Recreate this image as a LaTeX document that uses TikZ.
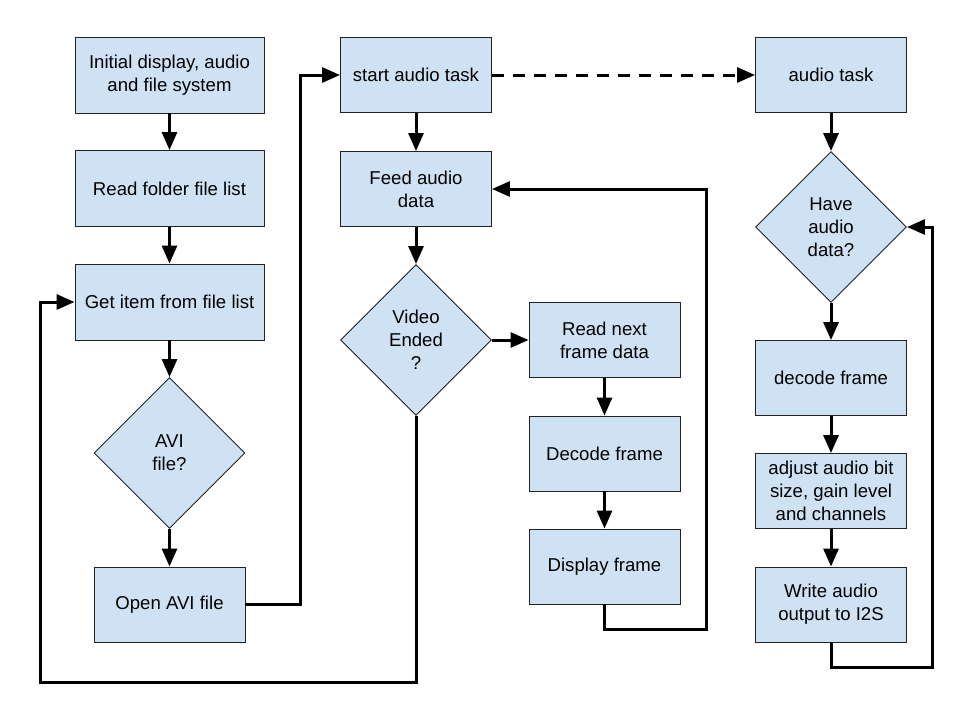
\documentclass[tikz,border=0pt]{standalone}
\usepackage{fontspec}
\setmainfont{Liberation Sans}
\usetikzlibrary{shapes.geometric,arrows.meta}
\definecolor{boxfill}{HTML}{CFE2F3}
\definecolor{boxline}{HTML}{222222}
\tikzset{
  base/.style={draw=boxline,line width=0.9pt,fill=boxfill,inner sep=0pt,align=center,
    font=\fontsize{18.6}{23}\selectfont},
  widebox/.style={base,rectangle,minimum width=189pt,minimum height=76pt},
  stdbox/.style={base,rectangle,minimum width=151pt,minimum height=75pt},
  decision/.style={base,diamond,aspect=1,minimum width=151pt,minimum height=151pt},
  conn/.style={line width=3pt,-{Triangle[length=18pt,width=15pt]}},
  plainconn/.style={line width=3pt},
  dashconn/.style={conn,dash pattern=on 12pt off 9pt}
}
\begin{document}
\begin{tikzpicture}[x=1pt,y=-1pt]
\useasboundingbox (0,0) rectangle (960,720);
% left column
\node[widebox] (init) at (169.5,75) {Initial display, audio\\and file system};
\node[widebox] (rf) at (169.5,188.5) {Read folder file list};
\node[widebox] (gi) at (169.5,302) {Get item from file list};
\node[decision] (avi) at (169.5,453) {AVI\\file?};
\node[stdbox] (oa) at (169.5,604.5) {Open AVI file};
% middle column
\node[stdbox] (sa) at (416,75) {start audio task};
\node[stdbox] (fa) at (416,189) {Feed audio\\data};
\node[decision] (ve) at (416,340) {Video\\Ended\\?};
\node[stdbox] (rn) at (604.5,340) {Read next\\frame data};
\node[stdbox] (dcf) at (604.5,453.5) {Decode frame};
\node[stdbox] (df) at (604.5,566.5) {Display frame};
% right column
\node[stdbox] (at) at (831,75) {audio task};
\node[decision] (had) at (831,227) {Have\\audio\\data?};
\node[stdbox] (adf) at (831,378) {decode frame};
\node[stdbox] (adj) at (831,491) {adjust audio bit\\size, gain level\\and channels};
\node[stdbox] (wa) at (831,604.5) {Write audio\\output to I2S};
% helper coordinates
\coordinate (c1) at (300,604.5);
\coordinate (c2) at (40,682);
\coordinate (c3) at (706,629);
\coordinate (c4) at (932,667);
% connectors
\draw[conn] (init) -- (rf);
\draw[conn] (rf) -- (gi);
\draw[conn] (gi) -- (avi);
\draw[conn] (avi) -- (oa);
\draw[conn] (oa.east) -- (c1) |- (sa.west);
\draw[conn] (sa) -- (fa);
\draw[conn] (fa) -- (ve);
\draw[conn] (ve.east) -- (rn.west);
\draw[conn] (ve.south) |- (c2) |- (gi.west);
\draw[conn] (rn) -- (dcf);
\draw[conn] (dcf) -- (df);
\draw[conn] (df.south) |- (c3) |- (fa.east);
\draw[dashconn] (sa.east) -- (at.west);
\draw[conn] (at) -- (had);
\draw[conn] (had) -- (adf);
\draw[conn] (adf) -- (adj);
\draw[conn] (adj) -- (wa);
\draw[conn] (wa.south) |- (c4) |- (had.east);
\end{tikzpicture}
\end{document}
